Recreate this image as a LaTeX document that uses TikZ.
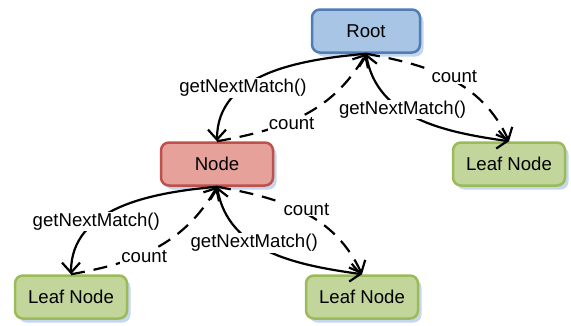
\documentclass[tikz,border=0pt]{standalone}
\usepackage{fontspec}
\setmainfont{Liberation Sans}
\usetikzlibrary{arrows.meta,shadows}
\definecolor{rootfill}{HTML}{A9C5E6}
\definecolor{rootline}{HTML}{4F7DB4}
\definecolor{nodefill}{HTML}{E6A19B}
\definecolor{nodeline}{HTML}{BE514C}
\definecolor{leaffill}{HTML}{C2D69B}
\definecolor{leafline}{HTML}{9BBB59}
\definecolor{shadowblue}{HTML}{C5D6EE}

\begin{document}
\begin{tikzpicture}[x=1pt,y=-1pt,font=\fontsize{18.6}{22}\selectfont,
	>={Straight Barb[length=10pt,width=18pt]},
	box/.style={line width=2.5pt,rounded corners=8pt,minimum width=112pt,minimum height=43pt,
		general shadow={fill=shadowblue,shadow xshift=3.5pt,shadow yshift=-4pt}},
	rootbox/.style={box,draw=rootline,fill=rootfill,minimum width=108pt},
	nodebox/.style={box,draw=nodeline,fill=nodefill},
	leafbox/.style={box,draw=leafline,fill=leaffill},
	call/.style={line width=2.2pt,->},
	back/.style={call,dash pattern=on 14pt off 9pt},
	lbl/.style={fill=white,inner sep=1pt}]
\useasboundingbox (0,0) rectangle (571,325);

\node (root) at (366,31) [rootbox] {Root};
\node (mid) at (217,164) [nodebox] {Node};
\node (leafR) at (509,164) [leafbox] {Leaf Node};
\node (leafL) at (71,297) [leafbox] {Leaf Node};
\node (leafM) at (362,297) [leafbox] {Leaf Node};

	\foreach \p/\l/\r in {root/mid/leafR, mid/leafL/leafM} {
		\draw[call] (\p.south) to[out=185,in=90] node[lbl,pos=.65] {getNextMatch()} (\l.north);
		\draw[back] (\l.north) to[out=10,in=240] node[lbl,pos=.42,yshift=-3pt] {count} (\p.south);
		\draw[back] (\p.south) to[out=-10,in=115] node[lbl,pos=.5,xshift=3pt,yshift=3pt] {count} (\r.north);
		\draw[call,<->] (\p.south) to[out=-80,in=172] node[lbl,pos=.4] {getNextMatch()} (\r.north);
		}
\end{tikzpicture}
\end{document}
